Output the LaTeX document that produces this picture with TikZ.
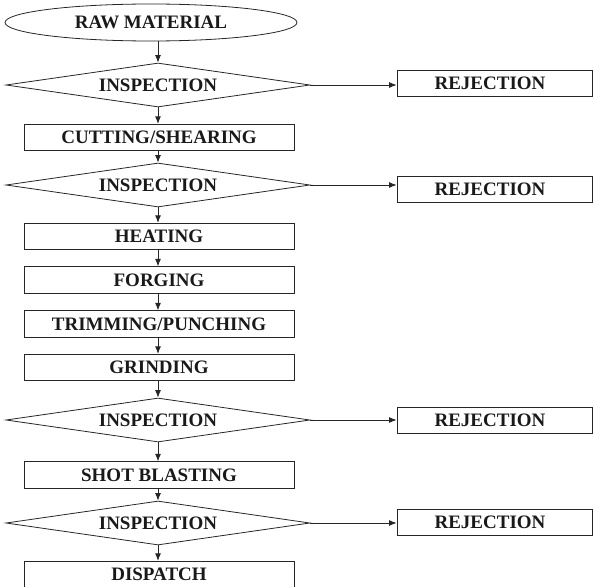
\documentclass[tikz,border=0pt]{standalone}
\usepackage{fontspec}
\setmainfont{Liberation Serif}
\usetikzlibrary{shapes.geometric,arrows.meta}
\begin{document}
\begin{tikzpicture}[x=1pt,y=-1pt,
  every node/.style={font=\bfseries\fontsize{19}{20}\selectfont, text=black!90, line width=0.8pt, draw=black!85, inner sep=0pt},
  procbox/.style={rectangle, minimum width=270pt, minimum height=26.5pt},
  decide/.style={diamond, shape aspect=6.8, minimum width=304pt, minimum height=44pt},
  rejbox/.style={rectangle, minimum width=195pt, minimum height=26pt},
  startnode/.style={ellipse, minimum width=292pt, minimum height=37pt},
  arr/.style={draw=black!85, line width=0.9pt, -{Latex[length=7.5pt,width=6pt]}}
]
\useasboundingbox (0,0) rectangle (593,586);
\node[startnode] (raw) at (151,22.5) {RAW MATERIAL};
\node[decide] (i1) at (158,85) {INSPECTION};
\node[procbox] (cut) at (159,137.5) {CUTTING/SHEARING};
\node[decide] (i2) at (158,185) {INSPECTION};
\node[procbox] (heat) at (159,236.5) {HEATING};
\node[procbox] (forge) at (159,280) {FORGING};
\node[procbox] (trim) at (159,324) {TRIMMING/PUNCHING};
\node[procbox] (grind) at (159,367.5) {GRINDING};
\node[decide] (i3) at (158,420) {INSPECTION};
\node[procbox] (shot) at (159,475) {SHOT BLASTING};
\node[decide] (i4) at (158,523) {INSPECTION};
\node[procbox] (disp) at (159,574.5) {DISPATCH};
\node[rejbox] (r1) at (494.5,83) {REJECTION\hspace*{9pt}};
\node[rejbox] (r2) at (494.5,189.5) {REJECTION\hspace*{9pt}};
\node[rejbox] (r3) at (494.5,420.5) {REJECTION\hspace*{9pt}};
\node[rejbox] (r4) at (494.5,522) {REJECTION\hspace*{9pt}};
\draw[arr] (raw.south -| i1.north) -- (i1.north);
\draw[arr] (i1.south) -- (cut.north -| i1.south);
\draw[arr] (cut.south -| i2.north) -- (i2.north);
\draw[arr] (i2.south) -- (heat.north -| i2.south);
\draw[arr] (heat.south -| i2.south) -- (forge.north -| i2.south);
\draw[arr] (forge.south -| i2.south) -- (trim.north -| i2.south);
\draw[arr] (trim.south -| i2.south) -- (grind.north -| i2.south);
\draw[arr] (grind.south -| i3.north) -- (i3.north);
\draw[arr] (i3.south) -- (shot.north -| i3.south);
\draw[arr] (shot.south -| i4.north) -- (i4.north);
\draw[arr] (i4.south) -- (disp.north -| i4.south);
\draw[arr] (i1.east) -- (r1.west |- i1.east);
\draw[arr] (i2.east) -- (r2.west |- i2.east);
\draw[arr] (i3.east) -- (r3.west |- i3.east);
\draw[arr] (i4.east) -- (r4.west |- i4.east);
\end{tikzpicture}
\end{document}
